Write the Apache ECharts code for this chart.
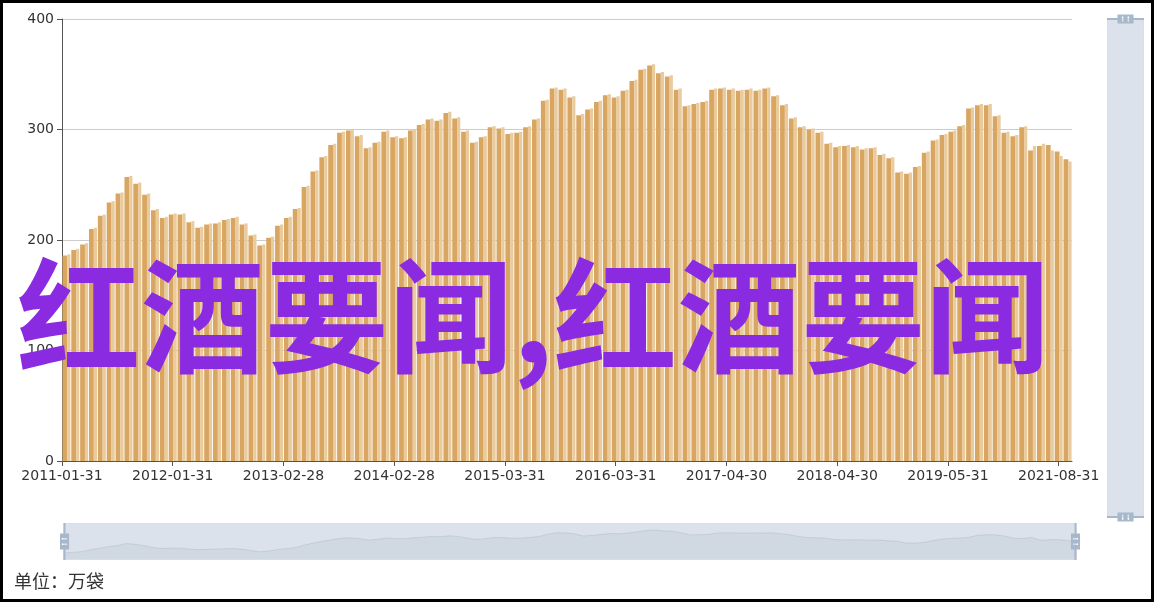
<!DOCTYPE html>
<html>
<head>
<meta charset="utf-8">
<script src="https://cdn.jsdelivr.net/npm/echarts@6/dist/echarts.min.js"></script>
<style>
html,body{margin:0;padding:0;background:#fff;}
#wrap{position:relative;width:1154px;height:602px;}
#chart{position:absolute;left:0;top:0;width:1154px;height:602px;}
#frame{position:absolute;left:0;top:0;width:1154px;height:602px;box-sizing:border-box;border:3px solid #000;pointer-events:none;}
</style>
</head>
<body>
<div id="wrap"><div id="chart"></div><div id="frame"></div></div>
<script>
// Category dates (monthly)
const categories = [
'2011-01-31','2011-02-28','2011-03-31','2011-04-30','2011-05-31','2011-06-30','2011-07-31','2011-08-31','2011-09-30','2011-10-31','2011-11-30','2011-12-31',
'2012-01-31','2012-02-29','2012-03-31','2012-04-30','2012-05-31','2012-06-30','2012-07-31','2012-08-31','2012-09-30','2012-10-31','2012-11-30','2012-12-31',
'2013-01-31','2013-02-28','2013-03-31','2013-04-30','2013-05-31','2013-06-30','2013-07-31','2013-08-31','2013-09-30','2013-10-31','2013-11-30','2013-12-31',
'2014-01-31','2014-02-28','2014-03-31','2014-04-30','2014-05-31','2014-06-30','2014-07-31','2014-08-31','2014-09-30','2014-10-31','2014-11-30','2014-12-31',
'2015-01-31','2015-02-28','2015-03-31','2015-04-30','2015-05-31','2015-06-30','2015-07-31','2015-08-31','2015-09-30','2015-10-31','2015-11-30','2015-12-31',
'2016-01-31','2016-02-29','2016-03-31','2016-04-30','2016-05-31','2016-06-30','2016-07-31','2016-08-31','2016-09-30','2016-10-31','2016-11-30','2016-12-31',
'2017-01-31','2017-02-28','2017-03-31','2017-04-30','2017-05-31','2017-06-30','2017-07-31','2017-08-31','2017-09-30','2017-10-31','2017-11-30','2017-12-31',
'2018-01-31','2018-02-28','2018-03-31','2018-04-30','2018-05-31','2018-06-30','2018-07-31','2018-08-31','2018-09-30','2018-10-31','2018-11-30','2018-12-31',
'2019-01-31','2019-02-28','2019-03-31','2019-04-30','2019-05-31','2019-06-30','2019-07-31','2019-08-31','2019-09-30','2019-10-31','2019-11-30','2019-12-31',
'2021-04-30','2021-05-31','2021-06-30','2021-07-31','2021-08-31','2021-09-30'
];
// Values (万袋) - darker bars
const values = [
186,191,196,210,222,234,242,257,251,241,227,220,
223,223,216,211,214,215,218,220,214,204,195,202,
213,220,228,248,262,275,286,297,299,294,283,288,
298,293,292,299,304,309,308,315,310,298,288,293,
302,301,296,297,302,309,326,337,336,329,313,318,
325,331,329,335,344,354,358,351,348,336,321,323,
325,336,337,336,335,336,335,337,330,322,310,302,
300,297,287,284,285,284,282,283,277,274,261,260,
266,279,290,295,298,303,319,322,322,312,297,294,
302,281,285,286,280,273
];
// Values (万袋) - lighter bars
const values2 = [
187,192,197,211,223,235,243,258,252,242,228,221,
224,224,217,212,215,216,219,221,215,205,196,203,
214,221,229,249,263,276,287,298,300,295,284,289,
299,294,293,300,305,310,309,316,311,299,289,294,
303,302,297,298,303,310,327,338,337,330,314,319,
326,332,330,336,345,355,359,352,349,337,322,324,
326,337,338,337,336,337,336,338,331,323,311,303,
301,298,288,285,286,285,283,284,278,275,262,261,
267,280,291,296,299,304,320,323,323,313,298,295,
303,285,287,281,276,271
];
// Axis tick labels
const tickLabels = ['2011-01-31','2012-01-31','2013-02-28','2014-02-28','2015-03-31','2016-03-31','2017-04-30','2018-04-30','2019-05-31','2021-08-31'];
const labelStep = 12.5;
const yTicks = [0,100,200,300,400];

const tickVals = tickLabels.map((_, i) => i * labelStep);
const axisColor = '#555';
const textColor = '#333';
const FONT = 'DejaVu Sans, sans-serif';

const handleIcon = 'path://M8.2,13.6V3.9H6.3v9.7H3.1v14.9h3.3v9.7h1.8v-9.7h3.3V13.6H8.2z M9.7,24.4H4.8v-1.4h4.9V24.4z M9.7,19.1H4.8v-1.4h4.9V19.1z';
const shadowStyle = {
  lineStyle: {color: '#2f4554', width: 0.5, opacity: 0.3},
  areaStyle: {color: 'rgba(47,69,84,0.3)', opacity: 0.3}
};

const chart = echarts.init(document.getElementById('chart'), null, {renderer: 'canvas'});
chart.setOption({
  animation: false,
  backgroundColor: '#fff',
  textStyle: {fontFamily: FONT},
  grid: {left: 62, top: 19, right: 82, bottom: 141, containLabel: false},
  xAxis: [
    {
      type: 'category',
      data: categories,
      boundaryGap: true,
      axisLine: {lineStyle: {color: axisColor}},
      axisTick: {show: false},
      axisLabel: {show: false},
      splitLine: {show: false}
    },
    {
      type: 'value',
      position: 'bottom',
      min: 0,
      max: categories.length,
      axisLine: {show: false},
      splitLine: {show: false},
      axisTick: {show: true, customValues: tickVals, length: 5, lineStyle: {color: axisColor}},
      axisLabel: {
        customValues: tickVals,
        formatter: v => tickLabels[Math.round(v / labelStep)] || '',
        fontSize: 14, color: textColor, margin: 8, fontFamily: FONT
      }
    }
  ],
  yAxis: {
    type: 'value',
    min: yTicks[0],
    max: yTicks[yTicks.length - 1],
    interval: yTicks[1] - yTicks[0],
    axisLine: {show: true, lineStyle: {color: axisColor}},
    axisTick: {show: true, length: 5, lineStyle: {color: axisColor}},
    axisLabel: {fontSize: 14, color: textColor, margin: 8, fontFamily: FONT},
    splitLine: {lineStyle: {color: '#ccc'}}
  },
  dataZoom: [
    {
      type: 'slider', xAxisIndex: 0, start: 0, end: 100,
      left: 61, top: 523, width: 1013, height: 37,
      backgroundColor: 'rgba(47,69,84,0)',
      borderColor: '#ddd',
      fillerColor: 'rgba(167,183,204,0.4)',
      handleIcon: handleIcon, handleSize: '100%',
      handleStyle: {color: '#a7b7cc', borderWidth: 0},
      dataBackground: shadowStyle,
      selectedDataBackground: shadowStyle,
      brushSelect: false, moveHandleSize: 0, showDetail: false
    },
    {
      type: 'slider', yAxisIndex: 0, orient: 'vertical', start: 0, end: 100,
      left: 1107, top: 18, width: 37, height: 500,
      backgroundColor: 'rgba(47,69,84,0)',
      borderColor: '#ddd',
      fillerColor: 'rgba(167,183,204,0.4)',
      handleIcon: handleIcon, handleSize: '100%',
      handleStyle: {color: '#a7b7cc', borderWidth: 0},
      showDataShadow: false,
      brushSelect: false, moveHandleSize: 0, showDetail: false
    }
  ],
  series: [
    {
      type: 'bar', name: 'a',
      xAxisIndex: 0, yAxisIndex: 0,
      data: values,
      barWidth: 4.8,
      barGap: '0%',
      itemStyle: {color: '#d9a662'}
    },
    {
      type: 'bar', name: 'b',
      xAxisIndex: 0, yAxisIndex: 0,
      data: values2,
      barWidth: 3.2,
      barGap: '0%',
      itemStyle: {color: '#e9cb9e'}
    }
  ],
  graphic: [
    {
      type: 'text', z: 100, x: 533, y: 316,
      style: {
        text: '红酒要闻,红酒要闻',
        font: 'bold 124px "Noto Sans CJK SC"',
        fill: '#8a2be2',
        textAlign: 'center', textVerticalAlign: 'middle', verticalAlign: 'middle'
      }
    },
    {
      type: 'text', z: 100, x: 14, y: 581,
      style: {
        text: '单位：万袋',
        font: '18px "Noto Sans CJK SC"',
        fill: '#333',
        textAlign: 'left', textVerticalAlign: 'middle', verticalAlign: 'middle'
      }
    }
  ]
});
</script>
</body>
</html>
